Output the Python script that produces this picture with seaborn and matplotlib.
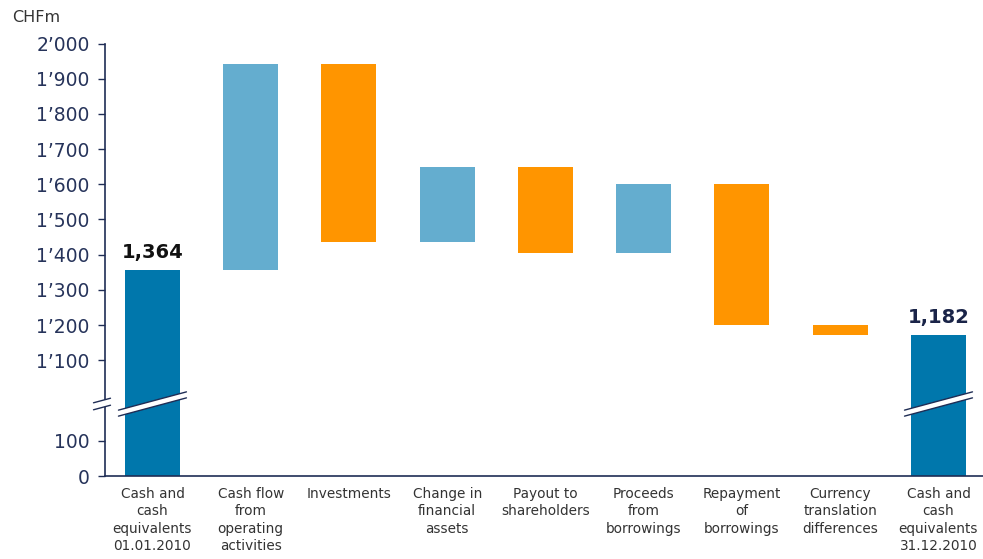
import numpy as np
import pandas as pd
import matplotlib
matplotlib.use("Agg")
import matplotlib.pyplot as plt
from matplotlib.patches import Polygon
from matplotlib.lines import Line2D
import seaborn as sns

# ---- data ----
categories = [
    "Cash and\ncash\nequivalents\n01.01.2010",
    "Cash flow\nfrom\noperating\nactivities",
    "Investments",
    "Change in\nfinancial\nassets",
    "Payout to\nshareholders",
    "Proceeds\nfrom\nborrowings",
    "Repayment\nof\nborrowings",
    "Currency\ntranslation\ndifferences",
    "Cash and\ncash\nequivalents\n31.12.2010",
]
bar_bottoms = [0, 1355, 1435, 1435, 1404, 1404, 1199, 1171, 0]
bar_tops = [1355, 1942, 1942, 1648, 1648, 1600, 1600, 1199, 1172]
bar_kinds = ["total", "inc", "dec", "inc", "dec", "inc", "dec", "dec", "total"]
total_labels = {0: "1,364", 8: "1,182"}
ytick_values = [0, 100, 1100, 1200, 1300, 1400, 1500, 1600, 1700, 1800, 1900, 2000]
ytick_labels = ["0", "100", "1\u2019100", "1\u2019200", "1\u2019300", "1\u2019400",
                "1\u2019500", "1\u2019600", "1\u2019700", "1\u2019800", "1\u2019900", "2\u2019000"]

kind_colors = {"total": "#0077AC", "inc": "#64ADCF", "dec": "#FF9500"}
navy = "#1F2D55"

sns.set_style("white")
plt.rcParams["font.family"] = ["DejaVu Sans"]

fig = plt.figure(figsize=(9.83, 5.59), dpi=100)
ax = fig.add_axes([105 / 983, 83 / 559, 1 - 105 / 983, (476 - 43.5) / 559])

df = pd.DataFrame({
    "cat": categories,
    "height": np.array(bar_tops) - np.array(bar_bottoms),
})
sns.barplot(data=df, x="cat", y="height", bottom=bar_bottoms, color=kind_colors["total"],
            width=0.56, ax=ax, saturation=1)
for p, k in zip(ax.patches, bar_kinds):
    p.set_facecolor(kind_colors[k])
    p.set_edgecolor("none")

# broken scale
xp = [-1e6, 150, 1100, 1e6]
fp = [-1e6, 150, 329, 1e6 - 771]
ax.set_yscale("function", functions=(lambda v: np.interp(v, xp, fp),
                                     lambda v: np.interp(v, fp, xp)))
ax.set_ylim(0, 2000)
ax.set_xlim(-0.483, 8 + (983 - 938.5) / 98.25)

ax.set_yticks(ytick_values)
ax.set_yticklabels(ytick_labels)
ax.tick_params(axis="y", direction="out", length=5, width=1, color=navy,
               labelcolor="#26335A", labelsize=13.5, pad=6, left=True)
ax.tick_params(axis="x", length=0, labelsize=9.8, labelcolor="#333333", pad=8)
for lab in ax.get_xticklabels():
    lab.set_linespacing(1.3)
ax.set_xlabel("")
ax.set_ylabel("")
for s in ["top", "right"]:
    ax.spines[s].set_visible(False)
for s in ["left", "bottom"]:
    ax.spines[s].set_color(navy)
    ax.spines[s].set_linewidth(1.2)

# total labels
for i, txt in total_labels.items():
    ax.annotate(txt, (i, bar_tops[i]), xytext=(0, 6), textcoords="offset points",
                ha="center", va="bottom", fontsize=14, fontweight="bold",
                color="#111111" if i == 0 else "#1A2448")

fig.text(12 / 983, 1 - 10 / 559, "CHFm", ha="left", va="top", fontsize=11.5, color="#333333")

# break marks (drawn in pixel space)
fig.canvas.draw()
cy = ax.transAxes.transform((0, (476 - 404) / 432.5))[1]
slope = 18 / 67


def break_band(cx, half, thick, lw):
    xs = np.array([cx - half, cx + half])
    ys = cy + (xs - cx) * slope
    poly = Polygon([(xs[0], ys[0] - thick / 2), (xs[1], ys[1] - thick / 2),
                    (xs[1], ys[1] + thick / 2), (xs[0], ys[0] + thick / 2)],
                   closed=True, facecolor="white", edgecolor="none",
                   transform=None, zorder=5, clip_on=False)
    fig.add_artist(poly)
    for off in (-thick / 2, thick / 2):
        fig.add_artist(Line2D(xs, ys + off, color=navy, lw=lw, transform=None,
                              zorder=6))


for i in (0, 8):
    cx = ax.transData.transform((i, 0))[0]
    break_band(cx, 34, 6, 1.0)
spx = ax.transAxes.transform((0, 0))[0]
break_band(spx - 3, 8.5, 7, 1.0)

fig.savefig("out.png", dpi=100)
